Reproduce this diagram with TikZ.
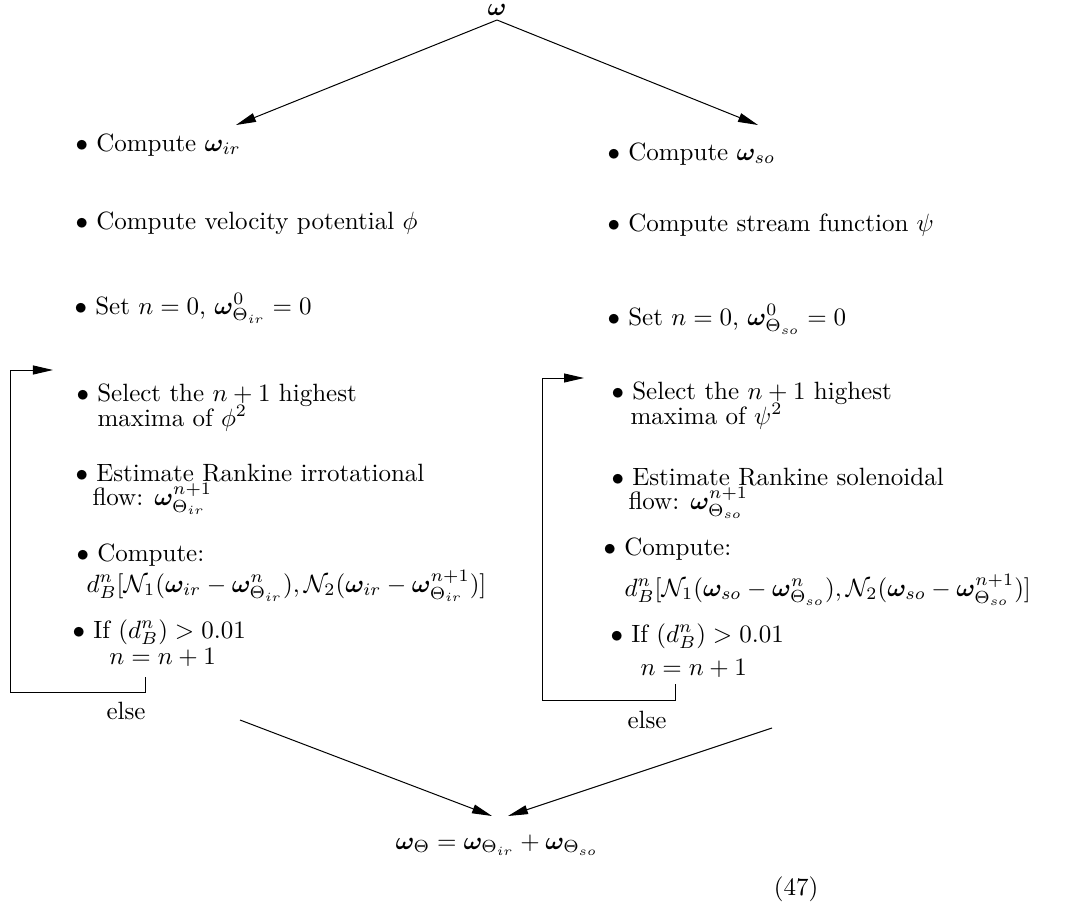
\documentclass[tikz,border=0pt]{standalone}
\usepackage{amsmath,amssymb,bm}
\usetikzlibrary{arrows.meta}
\newcommand{\w}{\bm{\omega}}
\begin{document}
\begin{tikzpicture}[x=0.4pt,y=-0.4pt,
  txt/.style={anchor=base west,inner sep=0pt,font=\fontsize{10}{11}\selectfont},
  arr/.style={line width=0.4pt,-{Triangle[length=8pt,width=3.6pt]}}]
\useasboundingbox (0,0) rectangle (1075,907);
% top
\node[inner sep=0pt,anchor=base] (w) at (497,15) {$\w$};
\coordinate (top) at (497,20);
\coordinate (tl) at (236,125);
\coordinate (tr) at (758,125);
\draw[arr] (top) -- (tl);
\draw[arr] (top) -- (tr);
% left column
\node[txt] (l1) at (75,151) {$\bullet$ Compute $\w_{ir}$};
\node[txt] (l2) at (75,229) {$\bullet$ Compute velocity potential $\phi$};
\node[txt] (l3) at (74,314) {$\bullet$ Set $n=0$, $\w^0_{\Theta_{ir}}=0$};
\node[txt] (l4a) at (76,401) {$\bullet$ Select the $n+1$ highest};
\node[txt] (l4b) at (97,426) {maxima of $\phi^2$};
\node[txt] (l5a) at (75,481) {$\bullet$ Estimate Rankine irrotational};
\node[txt] (l5b) at (92,505) {flow: $\w^{n+1}_{\Theta_{ir}}$};
\node[txt] (l6a) at (76,561) {$\bullet$ Compute:};
\node[txt] (l6b) at (86,592) {$d^n_B[\mathcal{N}_1(\w_{ir}-\w^n_{\Theta_{ir}}),\mathcal{N}_2(\w_{ir}-\w^{n+1}_{\Theta_{ir}})]$};
\node[txt] (l7a) at (72,638) {$\bullet$ If $(d^n_B)>0.01$};
\node[txt] (l7b) at (109,664) {$n=n+1$};
\node[txt] (lelse) at (106,719) {else};
\coordinate (lb1) at (145,677);
\coordinate (lb2) at (145,692);
\coordinate (lb3) at (10,692);
\coordinate (lb4) at (10,370);
\coordinate (lb5) at (53,370);
\draw[arr] (lb1) -- (lb2) -- (lb3) -- (lb4) -- (lb5);
% right column
\node[txt] (r1) at (607,160) {$\bullet$ Compute $\w_{so}$};
\node[txt] (r2) at (607,231) {$\bullet$ Compute stream function $\psi$};
\node[txt] (r3) at (607,325) {$\bullet$ Set $n=0$, $\w^0_{\Theta_{so}}=0$};
\node[txt] (r4a) at (611,399) {$\bullet$ Select the $n+1$ highest};
\node[txt] (r4b) at (630,424) {maxima of $\psi^2$};
\node[txt] (r5a) at (611,485) {$\bullet$ Estimate Rankine solenoidal};
\node[txt] (r5b) at (628,509) {flow: $\w^{n+1}_{\Theta_{so}}$};
\node[txt] (r6a) at (603,555) {$\bullet$ Compute:};
\node[txt] (r6b) at (624,596) {$d^n_B[\mathcal{N}_1(\w_{so}-\w^n_{\Theta_{so}}),\mathcal{N}_2(\w_{so}-\w^{n+1}_{\Theta_{so}})]$};
\node[txt] (r7a) at (610,642) {$\bullet$ If $(d^n_B)>0.01$};
\node[txt] (r7b) at (640,675) {$n=n+1$};
\node[txt] (relse) at (627,728) {else};
\coordinate (rb1) at (675,684);
\coordinate (rb2) at (675,700);
\coordinate (rb3) at (542,700);
\coordinate (rb4) at (542,378);
\coordinate (rb5) at (584,378);
\draw[arr] (rb1) -- (rb2) -- (rb3) -- (rb4) -- (rb5);
% bottom
\coordinate (bl) at (240,720);
\coordinate (br) at (772,728);
\coordinate (bt1) at (492,816);
\coordinate (bt2) at (508,816);
\draw[arr] (bl) -- (bt1);
\draw[arr] (br) -- (bt2);
\node[inner sep=0pt,anchor=base] (sum) at (497,849) {$\w_\Theta=\w_{\Theta_{ir}}+\w_{\Theta_{so}}$};
\node[inner sep=0pt,anchor=base] (eq) at (796,895) {(47)};
\end{tikzpicture}
\end{document}
